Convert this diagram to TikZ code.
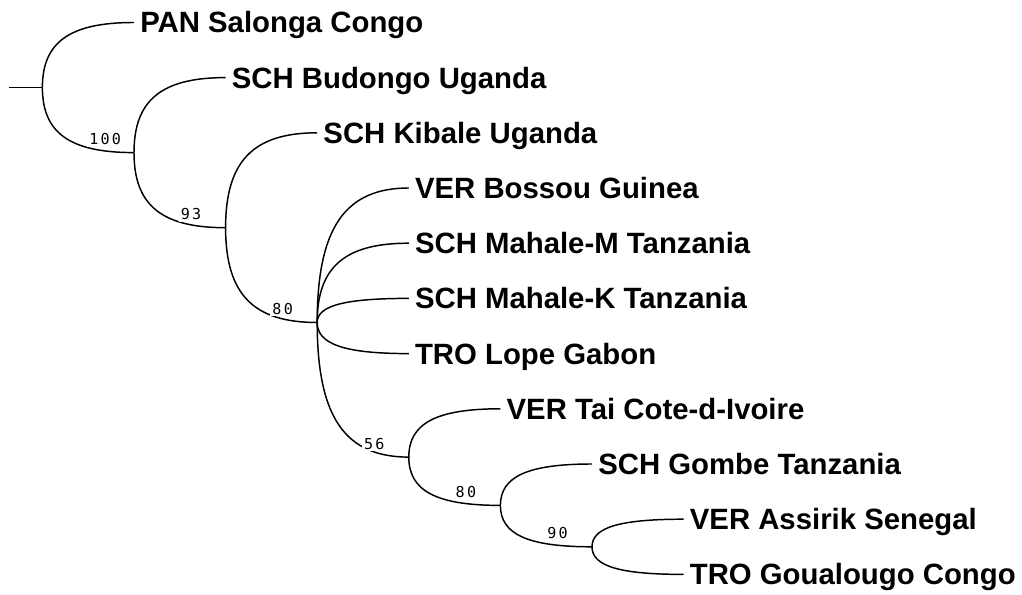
\documentclass[tikz,border=0pt]{standalone}
\usepackage{fontspec}
\setmainfont{Liberation Sans}
\newfontfamily\suppfont[LetterSpace=15]{DejaVu Sans Mono}
\usepackage{tikz}
\usetikzlibrary{calc}
\tikzset{
  leaf/.style={ anchor=west, inner xsep=4.5pt, inner ysep=0pt, text height=15.75pt, text depth=0pt, font=\fontsize{22}{26}\selectfont\bfseries }
}
\tikzset{
  supp/.style={ anchor=west, fill=white, inner sep=1.5pt, text height=8.25pt, text depth=0pt, font=\fontsize{11.3}{13}\selectfont\suppfont }
}
\tikzset{
  branch/.style={ line width=1.1pt }
}
\newcommand{\clade}[2]{\draw[branch] (#1) .. controls ($(#1)!0.7!(#1|-#2)$) and ($(#2)!0.7!(#2-|#1)$) .. (#2);}

\begin{document}
\begin{tikzpicture}[x=0.75pt, y=-0.75pt]
        \useasboundingbox (0,0) rectangle (1022,595);
        % leaves
        \node[leaf] (pan) at (134, 22.5) {PAN Salonga Congo};
        \node[leaf] (budongo) at (225.6, 77.6) {SCH Budongo Uganda};
        \node[leaf] (kibale) at (317.2, 132.8) {SCH Kibale Uganda};
        \node[leaf] (bossou) at (408.8, 188) {VER Bossou Guinea};
        \node[leaf] (mahalem) at (408.8, 243.2) {SCH Mahale-M Tanzania};
        \node[leaf] (mahalek) at (408.8, 298.4) {SCH Mahale-K Tanzania};
        \node[leaf] (lope) at (408.8, 353.6) {TRO Lope Gabon};
        \node[leaf] (tai) at (500.4, 408.8) {VER Tai Cote-d-Ivoire};
        \node[leaf] (gombe) at (592, 464) {SCH Gombe Tanzania};
        \node[leaf] (assirik) at (683.6, 519.2) {VER Assirik Senegal};
        \node[leaf] (goualougo) at (683.6, 574.4) {TRO Goualougo Congo};
        % internal nodes
        \coordinate (stub) at (8.5, 87.5);
        \coordinate (root) at (42.4, 87.5);
        \coordinate (n100) at (134, 152.6);
        \coordinate (n93) at (225.6, 227.7);
        \coordinate (n80) at (317.2, 322.5);
        \coordinate (n56) at (408.8, 457.1);
        \coordinate (n80b) at (500.4, 505.4);
        \coordinate (n90) at (592, 546.8);
        % branches
        \draw[branch] (stub) -- (root);
        \clade{root}{pan.west}
        \clade{root}{n100}
        \clade{n100}{budongo.west}
        \clade{n100}{n93}
        \clade{n93}{kibale.west}
        \clade{n93}{n80}
        \clade{n80}{bossou.west}
        \clade{n80}{mahalem.west}
        \clade{n80}{mahalek.west}
        \clade{n80}{lope.west}
        \clade{n80}{n56}
        \clade{n56}{tai.west}
        \clade{n56}{n80b}
        \clade{n80b}{gombe.west}
        \clade{n80b}{n90}
        \clade{n90}{assirik.west}
        \clade{n90}{goualougo.west}
        % support values
        \node[supp] (s100) at ([shift={(-47,-13.5)}]n100) {100};
        \node[supp] (s93) at ([shift={(-47,-13.5)}]n93) {93};
        \node[supp] (s80) at ([shift={(-47,-13.5)}]n80) {80};
        \node[supp] (s56) at ([shift={(-47,-13.5)}]n56) {56};
        \node[supp] (s80b) at ([shift={(-47,-13.5)}]n80b) {80};
        \node[supp] (s90) at ([shift={(-47,-13.5)}]n90) {90};
      \end{tikzpicture}
\end{document}
